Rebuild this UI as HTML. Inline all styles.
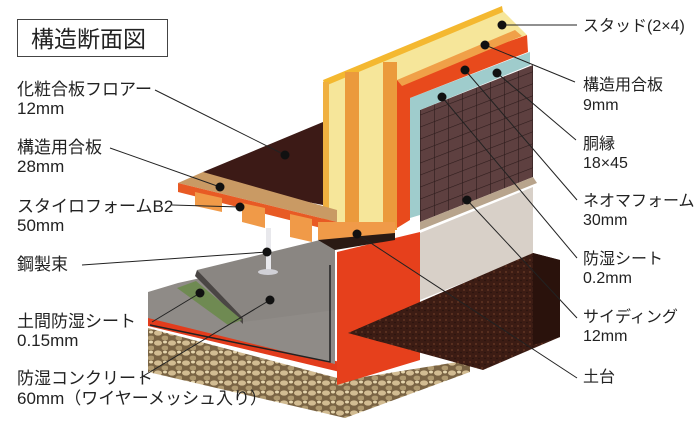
<!DOCTYPE html>
<html><head><meta charset="utf-8"><style>
html,body{margin:0;padding:0;background:#fff;}
svg{display:block;}
text{font-family:"Liberation Sans","Noto Sans CJK JP",sans-serif;font-size:17px;fill:#222;}
text.r{font-size:16px;}
</style></head><body>
<svg width="700" height="425" viewBox="0 0 700 425" xmlns="http://www.w3.org/2000/svg">
<defs>
<pattern id="gravel" width="14" height="10" patternUnits="userSpaceOnUse">
<rect width="14" height="10" fill="#7a6444"/>
<ellipse cx="4" cy="3" rx="4" ry="2.6" fill="#d2bc92"/>
<ellipse cx="11" cy="8" rx="3.5" ry="2.4" fill="#b09a70"/>
<ellipse cx="11" cy="2" rx="2" ry="1.5" fill="#e6d6ae"/>
</pattern>
<pattern id="grid" width="14" height="12" patternUnits="userSpaceOnUse" patternTransform="skewY(-21)">
<rect width="14" height="12" fill="#5e4040"/>
<path d="M0 0H14M0 0V12" stroke="#2e1c1c" stroke-width="1.2"/>
</pattern>
<pattern id="soil" width="6" height="6" patternUnits="userSpaceOnUse">
<rect width="6" height="6" fill="#3c1c14"/>
<circle cx="2" cy="2" r="0.9" fill="#6a3a26"/>
<circle cx="5" cy="4.5" r="0.7" fill="#24100c"/>
</pattern>
</defs>

<polygon points="148,328 345,380 470,360 470,372 345,418 148,372" fill="url(#gravel)"/>
<polygon points="148,316 340,362 340,372 148,326" fill="#e23c1c"/>
<polygon points="148,292 178,283 335,248 335,364 148,318" fill="#8f8b87"/>
<polygon points="197,270 320,240 335,245 335,310 243,322" fill="#8a8682"/>
<polygon points="197,270 243,318 243,324 195,276" fill="#4a4644"/>
<polygon points="177,288 196,281 242,320 228,325" fill="#6f8a52"/>
<polyline points="150,325 330,362 330,265" fill="none" stroke="#222" stroke-width="1.5"/>
<polygon points="420,233 533,187 533,255 420,300" fill="#d8d0c8"/>
<polygon points="337,252 420,232 420,360 337,385" fill="#e6401c"/>
<polygon points="348,333 533,253 560,260 560,337 483,370" fill="url(#soil)"/>
<polygon points="533,253 560,260 560,337 533,345" fill="#2a120c"/>
<polygon points="420,110 533,65 533,177 420,222" fill="url(#grid)"/>
<polygon points="420,222 533,177 537,183 420,230" fill="#b8a48c"/>
<polygon points="410,98 530,52 530,65 420,110 420,215 410,218" fill="#9fcccc"/>
<polygon points="397,80 527,35 528,52 410,98 410,220 397,228" fill="#e84a1c"/>
<polygon points="323,82 500,8 510,18 527,35 397,80 397,228 323,232" fill="#f6e69a"/>
<polygon points="323,80 502,6 503,12 325,86" fill="#f4b830"/>
<rect x="345" y="72" width="14" height="158" fill="#eb9a3c"/>
<rect x="383" y="62" width="14" height="168" fill="#eb9a3c"/>
<rect x="323" y="82" width="6" height="150" fill="#f0b040"/>
<polygon points="397,80 515,30 522,36 402,86" fill="#f0a048"/>
<polygon points="203,172 323,122 323,205 210,183" fill="#3c1a16"/>
<polygon points="178,183 203,172 337,210 337,222" fill="#c99a64"/>
<polygon points="178,183 337,222 337,232 178,192" fill="#e85a24"/>
<polygon points="195,192 222,198 222,212 195,206" fill="#f09a48"/>
<polygon points="242,203 265,208 265,228 242,222" fill="#f09a48"/>
<polygon points="290,214 312,219 312,242 290,237" fill="#f09a48"/>
<polygon points="318,222 395,222 395,237 318,240" fill="#f09a48"/>
<polygon points="318,240 395,233 395,240 335,250" fill="#2a1a14"/>
<rect x="266" y="228" width="5" height="42" fill="#e8e8ec"/>
<ellipse cx="268" cy="272" rx="10" ry="3" fill="#d0d0d6"/>

<rect x="17.5" y="19.5" width="150" height="37" fill="#fff" stroke="#444" stroke-width="1"/>
<text x="31" y="47" style="font-size:23px">構造断面図</text>

<text x="17" y="95">化粧合板フロアー</text>
<text x="17" y="114">12mm</text>
<text x="17" y="153">構造用合板</text>
<text x="17" y="172">28mm</text>
<text x="17" y="212">スタイロフォームB2</text>
<text x="17" y="231">50mm</text>
<text x="17" y="270">鋼製束</text>
<text x="17" y="327">土間防湿シート</text>
<text x="17" y="346">0.15mm</text>
<text x="17" y="384">防湿コンクリート</text>
<text x="17" y="404">60mm（ワイヤーメッシュ入り）</text>

<text class="r" x="583" y="31">スタッド(2×4)</text>
<text class="r" x="583" y="90">構造用合板</text>
<text class="r" x="583" y="110">9mm</text>
<text class="r" x="583" y="149">胴縁</text>
<text class="r" x="583" y="168">18×45</text>
<text class="r" x="583" y="206">ネオマフォーム</text>
<text class="r" x="583" y="225">30mm</text>
<text class="r" x="583" y="264">防湿シート</text>
<text class="r" x="583" y="283">0.2mm</text>
<text class="r" x="583" y="322">サイディング</text>
<text class="r" x="583" y="341">12mm</text>
<text class="r" x="583" y="382">土台</text>

<g stroke="#222" stroke-width="1" fill="none">
<line x1="155" y1="90" x2="285" y2="155"/>
<line x1="110" y1="148" x2="220" y2="187"/>
<line x1="172" y1="205" x2="240" y2="207"/>
<line x1="82" y1="265" x2="267" y2="252"/>
<line x1="152" y1="322" x2="200" y2="293"/>
<line x1="140" y1="378" x2="270" y2="300"/>
<line x1="577" y1="25" x2="502" y2="25"/>
<line x1="575" y1="82" x2="485" y2="45"/>
<line x1="576" y1="140" x2="497" y2="73"/>
<line x1="577" y1="200" x2="465" y2="70"/>
<line x1="577" y1="258" x2="442" y2="97"/>
<line x1="577" y1="318" x2="467" y2="200"/>
<line x1="577" y1="378" x2="357" y2="234"/>
</g>
<g fill="#111">
<circle cx="285" cy="155" r="4.5"/><circle cx="220" cy="187" r="4.5"/>
<circle cx="240" cy="207" r="4.5"/><circle cx="267" cy="252" r="4.5"/>
<circle cx="200" cy="293" r="4.5"/><circle cx="270" cy="300" r="4.5"/>
<circle cx="502" cy="25" r="4.5"/><circle cx="485" cy="45" r="4.5"/>
<circle cx="497" cy="73" r="4.5"/><circle cx="465" cy="70" r="4.5"/>
<circle cx="442" cy="97" r="4.5"/><circle cx="467" cy="200" r="4.5"/>
<circle cx="357" cy="234" r="4.5"/>
</g>
</svg>
</body></html>
